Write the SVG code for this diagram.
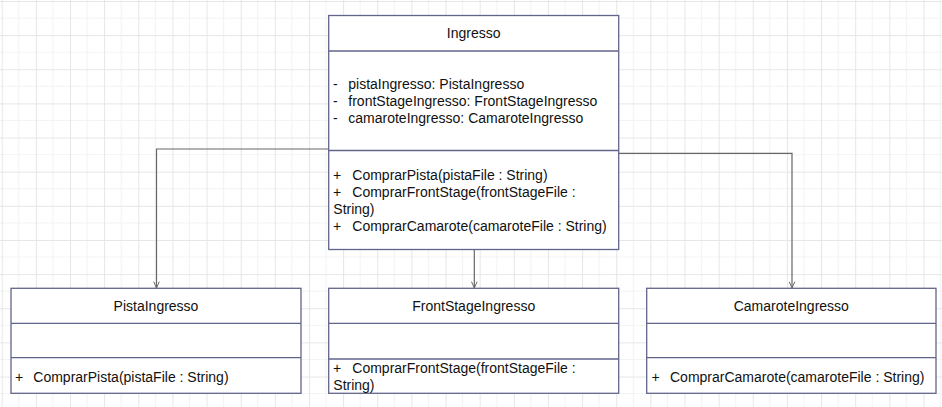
<svg xmlns="http://www.w3.org/2000/svg" width="942" height="407" viewBox="0 0 942 407">
  <defs>
    <pattern id="grid" patternUnits="userSpaceOnUse" x="1.7" y="1" width="34.14" height="34.14">
      <rect width="34.14" height="34.14" fill="#ffffff"/>
      <path d="M17.07 0V34.14M0 17.07H34.14" stroke="#f3f3f3" stroke-width="1" fill="none"/>
      <path d="M0.5 0V34.14M0 0.5H34.14" stroke="#e6e6e6" stroke-width="1" fill="none"/>
    </pattern>
    <marker id="open" viewBox="0 0 10 10" refX="10" refY="5" markerWidth="7" markerHeight="7" markerUnits="userSpaceOnUse" orient="auto">
      <path d="M1 1L10 5L1 9" fill="none" stroke="#666666" stroke-width="1.4"/>
    </marker>
    <style>
      .box { fill: #ffffff; stroke: #62658a; stroke-width: 1.3; }
      .div { stroke: #62658a; stroke-width: 1.3; fill: none; }
      .t { font-family: "Liberation Sans", Arial, sans-serif; font-size: 14px; fill: #111111; }
      .c { text-anchor: middle; }
      .edge { fill: none; stroke: #666666; stroke-width: 1.2; marker-end: url(#open); }
    </style>
  </defs>
  <rect x="0" y="0" width="942" height="407" fill="url(#grid)"/>

  <g id="connectors">
    <path class="edge" d="M328.7 149H156.5V288"/>
    <path class="edge" d="M474.3 249.5V288"/>
    <path class="edge" d="M618.7 153.3H792V288"/>
  </g>

  <g id="Ingresso">
    <rect class="box" x="328.7" y="15.5" width="290" height="234"/>
    <path class="div" d="M328.7 51H618.7M328.7 150.5H618.7"/>
    <text class="t c" x="473.7" y="38.3">Ingresso</text>
    <text class="t" x="333" y="89.3">-</text>
    <text class="t" x="348.3" y="89.3">pistaIngresso: PistaIngresso</text>
    <text class="t" x="333" y="106.3">-</text>
    <text class="t" x="348.3" y="106.3">frontStageIngresso: FrontStageIngresso</text>
    <text class="t" x="333" y="123.3">-</text>
    <text class="t" x="348.3" y="123.3">camaroteIngresso: CamaroteIngresso</text>
    <text class="t" x="333" y="180">+</text>
    <text class="t" x="352.3" y="180">ComprarPista(pistaFile : String)</text>
    <text class="t" x="333" y="197">+</text>
    <text class="t" x="352.3" y="197">ComprarFrontStage(frontStageFile :</text>
    <text class="t" x="333.3" y="214">String)</text>
    <text class="t" x="333" y="231">+</text>
    <text class="t" x="352.3" y="231">ComprarCamarote(camaroteFile : String)</text>
  </g>

  <g id="PistaIngresso">
    <rect class="box" x="11" y="288.3" width="290" height="105"/>
    <path class="div" d="M11 323.3H301M11 357.7H301"/>
    <text class="t c" x="156" y="310.7">PistaIngresso</text>
    <text class="t" x="15" y="381.7">+</text>
    <text class="t" x="33.3" y="381.7">ComprarPista(pistaFile : String)</text>
  </g>

  <g id="FrontStageIngresso">
    <rect class="box" x="328.7" y="288.3" width="290" height="105"/>
    <path class="div" d="M328.7 323.3H618.7M328.7 359H618.7"/>
    <text class="t c" x="473.7" y="311">FrontStageIngresso</text>
    <text class="t" x="333" y="372.7">+</text>
    <text class="t" x="352.3" y="372.7">ComprarFrontStage(frontStageFile :</text>
    <text class="t" x="333.3" y="389.5">String)</text>
  </g>

  <g id="CamaroteIngresso">
    <rect class="box" x="646.7" y="288.3" width="289.3" height="105"/>
    <path class="div" d="M646.7 323.3H936M646.7 357.7H936"/>
    <text class="t c" x="791.3" y="310.7">CamaroteIngresso</text>
    <text class="t" x="651.5" y="381.7">+</text>
    <text class="t" x="670" y="381.7">ComprarCamarote(camaroteFile : String)</text>
  </g>
</svg>
